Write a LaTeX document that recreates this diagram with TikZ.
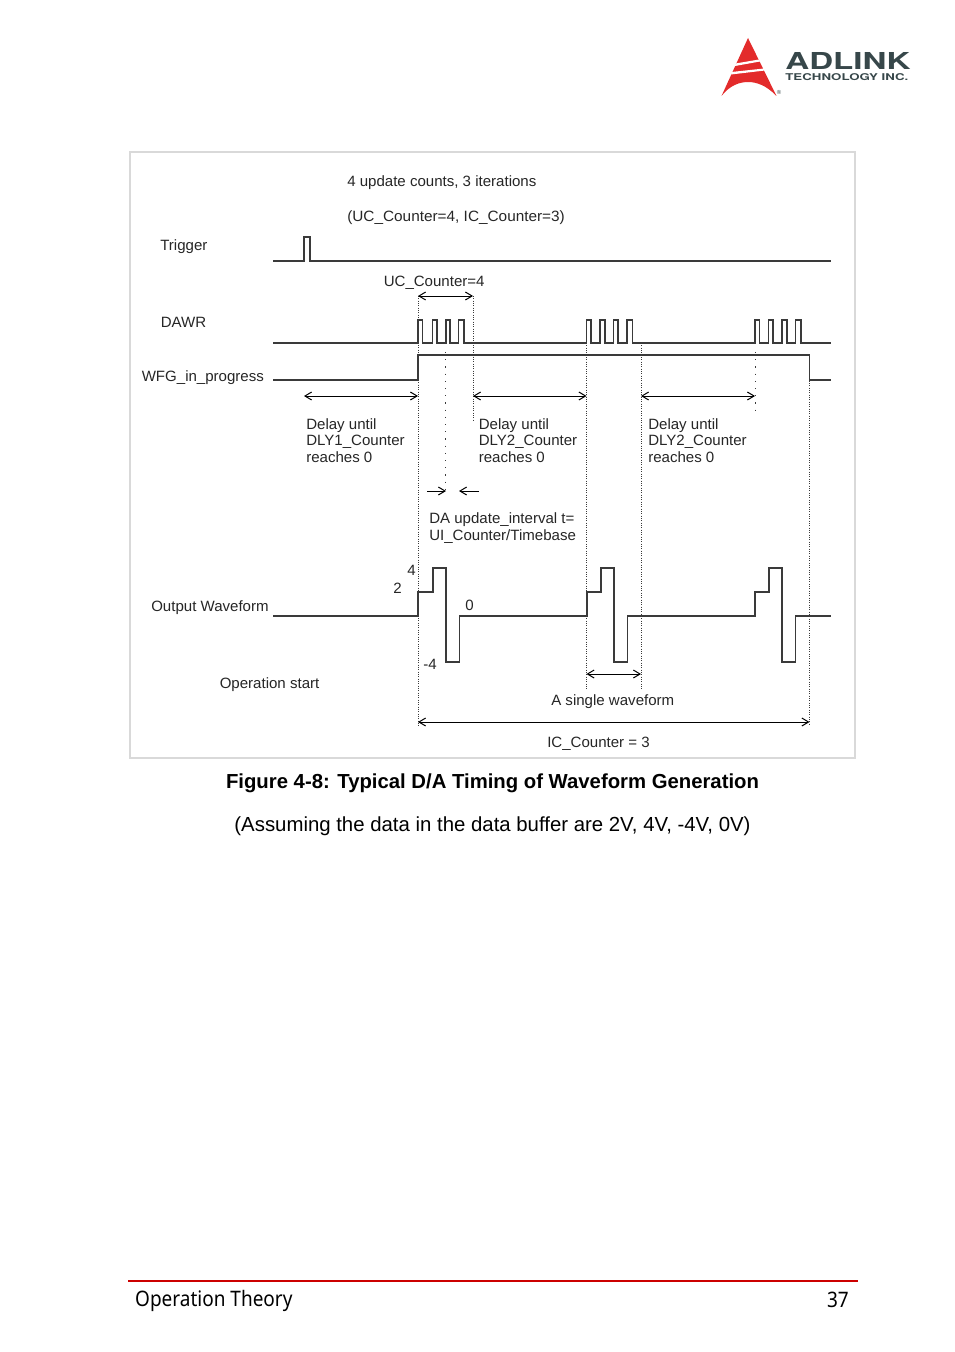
\documentclass[tikz,border=0pt]{standalone}
\usepackage{fontspec}
\setmainfont{Liberation Sans}
\newfontfamily\footfont{Noto Sans}
\newfontfamily\logofont{TeX Gyre Heros}
\usepackage{tikz}
\usetikzlibrary{arrows.meta,positioning,calc}
\definecolor{logored}{HTML}{E32B2B}
\definecolor{logogray}{HTML}{37474A}
\definecolor{framegray}{HTML}{D9D9D9}
\definecolor{wavegray}{HTML}{3A3A3A}
\definecolor{footred}{HTML}{CC0000}

\begin{document}
\begin{tikzpicture}[
    x=0.75pt, y=-0.75pt,
    wave/.style={draw=wavegray, line width=0.95pt},
    guide/.style={draw=wavegray, line width=0.75pt, densely dotted},
    sparse/.style={draw=wavegray, line width=0.75pt, dash pattern=on 0.9pt off 4.5pt},
    span/.style={{Straight Barb[length=5pt,width=6pt]}-{Straight Barb[length=5pt,width=6pt]}, draw=black, line width=0.75pt},
    single/.style={-{Straight Barb[length=5pt,width=6pt]}, draw=black, line width=0.75pt},
    label/.style={font=\fontsize{11.2}{12.4}\selectfont, text=black!85, inner sep=0pt, anchor=west, align=left, xscale=1.008}
]
\useasboundingbox (0,0) rectangle (954,1352);

% --- logo ---
\fill[logored] (748,38) -- (776.5,96) .. controls (766,85) and (756,82) .. (748,82)
    .. controls (740,82) and (730,85) .. (721.5,96) -- cycle;
\fill[white] (735.5,63.5) -- (759,59.5) -- (760,61.5) -- (735,66) -- cycle;
\fill[white] (731.5,72) -- (764,68.5) -- (765,70.5) -- (731,74.5) -- cycle;
\node[font=\logofont\bfseries\fontsize{17.5}{18}\selectfont, text=logogray, inner sep=0pt, anchor=west, xscale=1.42] (brand) at (785,60.5) {ADLINK};
\node[font=\logofont\bfseries\fontsize{7}{8}\selectfont, text=logogray, inner sep=0pt, anchor=west, xscale=1.42] (brandsub) at (785,77) {TECHNOLOGY INC.};
\node[font=\logofont\fontsize{4.5}{5}\selectfont, text=logogray, inner sep=0pt] (regmark) at (779,92.5) {®};

% --- frame ---
\draw[framegray, line width=1.5pt] (129.5,152) rectangle (855,758);

% --- time marks ---
\coordinate (t1top) at (418,296);   \coordinate (t1bot) at (418,726);
\coordinate (t2top) at (473,296);   \coordinate (t2bot) at (473,420);
\coordinate (t3top) at (586.5,343); \coordinate (t3bot) at (586.5,690);
\coordinate (t4top) at (641,343);   \coordinate (t4bot) at (641,690);
\coordinate (t5top) at (755,352);   \coordinate (t5bot) at (755,410);
\coordinate (t6top) at (809.5,355); \coordinate (t6bot) at (809.5,724);
\coordinate (umtop) at (445,352);   \coordinate (umbot) at (445,494);

\draw[guide] (t1top) -- (t1bot);
\draw[guide] (t2top) -- (t2bot);
\draw[guide] (t3top) -- (t3bot);
\draw[guide] (t4top) -- (t4bot);
\draw[sparse] (t5top) -- (t5bot);
\draw[guide] (t6top) -- (t6bot);
\draw[sparse] (umtop) -- (umbot);

% --- waves ---
\draw[wave] (273,261) -- (304,261) -- (304,237) -- (310,237) -- (310,261) -- (831,261);

\draw[wave] (273,343) -- (418,343) -- (418,320) -- (422.5,320) -- (422.5,343) -- (432.5,343) -- (432.5,320) -- (437,320) -- (437,343)
    -- (446,343) -- (446,320) -- (450,320) -- (450,343) -- (458.5,343) -- (458.5,320) -- (464,320) -- (464,343)
    -- (586.5,343) -- (586.5,320) -- (591,320) -- (591,343) -- (600,343) -- (600,320) -- (605,320) -- (605,343)
    -- (613.5,343) -- (613.5,320) -- (618,320) -- (618,343) -- (627,343) -- (627,320) -- (632.5,320) -- (632.5,343)
    -- (755,343) -- (755,320) -- (759.5,320) -- (759.5,343) -- (768.5,343) -- (768.5,320) -- (773,320) -- (773,343)
    -- (782,343) -- (782,320) -- (787,320) -- (787,343) -- (795.5,343) -- (795.5,320) -- (801,320) -- (801,343) -- (831,343);

\draw[wave] (273,380) -- (418,380) -- (418,355) -- (809.5,355) -- (809.5,380) -- (831,380);

\draw[wave] (273,616) -- (418,616) -- (418,592) -- (433,592) -- (433,568) -- (446,568) -- (446,662) -- (459.5,662) -- (459.5,616)
    -- (587,616) -- (587,592) -- (601,592) -- (601,568) -- (614,568) -- (614,662) -- (627.5,662) -- (627.5,616)
    -- (755,616) -- (755,592) -- (769,592) -- (769,568) -- (782,568) -- (782,662) -- (795.5,662) -- (795.5,616) -- (831,616);

% --- arrows ---
\draw[span] (t1top) -- (t2top);
\draw[span] (304,396) -- (418,396);
\draw[span] (473,396) -- (586.5,396);
\draw[span] (641,396) -- (755,396);
\draw[span] (586.5,674) -- (641,674);
\draw[span] (418,722) -- (809.5,722);
\draw[single] (427,491) -- (446,491);
\draw[single] (479,491) -- (459,491);

% --- labels ---
\node[label] (title) at (347,183) {4 update counts, 3 iterations};
\node[label, xscale=1.02] (subtitle) at (347,218) {(UC\_Counter=4, IC\_Counter=3)};
\node[label] (ltrigger) at (160,246.5) {Trigger};
\node[label] (lucount) at (383.5,283) {UC\_Counter=4};
\node[label] (ldawr) at (160.5,322) {DAWR};
\node[label] (lwfg) at (141.5,378) {WFG\_in\_progress};
\node[label, anchor=north west] (ldelayone) at (306,418) {Delay until\\DLY1\_Counter\\reaches 0};
\node[label, anchor=north west] (ldelaytwo) at (478.5,418) {Delay until\\DLY2\_Counter\\reaches 0};
\node[label, anchor=north west] (ldelaythree) at (648,418) {Delay until\\DLY2\_Counter\\reaches 0};
\node[label, anchor=north west] (linterval) at (429,512.5) {DA update\_interval t=\\UI\_Counter/Timebase};
\node[label] (lfour) at (407,570.5) {4};
\node[label] (ltwo) at (393,588) {2};
\node[label] (lzero) at (465,605) {0};
\node[label] (lminus) at (423,664.5) {-4};
\node[label] (loutput) at (151,607.5) {Output Waveform};
\node[label] (lstart) at (219.5,684.5) {Operation start};
\node[label] (lsingle) at (551,701.5) {A single waveform};
\node[label] (licount) at (547,744) {IC\_Counter = 3};

% --- caption ---
\node[font=\bfseries\fontsize{15.23}{16}\selectfont, inner sep=0pt] (caption) at (492.5,783) {Figure 4-8: Typical D/A Timing of Waveform Generation};
\node[font=\fontsize{15.28}{16}\selectfont, inner sep=0pt] (assume) at (492.5,826) {(Assuming the data in the data buffer are 2V, 4V, -4V, 0V)};

% --- footer ---
\draw[footred, line width=1.5pt] (128,1280.5) -- (858,1280.5);
\node[font=\footfont\fontsize{16}{18}\selectfont, inner sep=0pt, anchor=west, xscale=0.89] (footleft) at (135,1301) {Operation Theory};
\node[font=\footfont\fontsize{16}{18}\selectfont, inner sep=0pt, anchor=east, xscale=0.89] (footright) at (849,1300) {37};

\end{tikzpicture}
\end{document}
